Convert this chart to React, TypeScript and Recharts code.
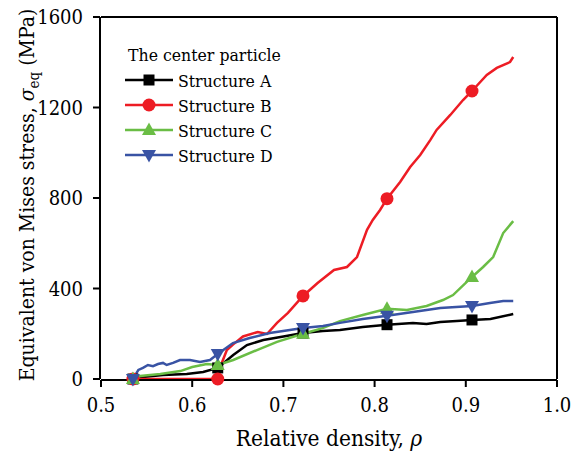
import React from 'react';
import { LineChart, Line, XAxis, YAxis, Legend } from 'recharts';

// relative density (x) and equivalent von Mises stress in MPa (y) per structure
const densityA = [0.535, 0.546, 0.568, 0.594, 0.612, 0.628, 0.645, 0.66, 0.678, 0.7, 0.7215, 0.743, 0.762, 0.787, 0.8136, 0.842, 0.857, 0.872, 0.89, 0.9068, 0.927, 0.952];
const stressA = [0, 9, 18, 22, 31, 49, 106, 150, 172, 188, 203, 212, 217, 230, 240, 248, 243, 252, 256, 261, 265, 287];

const densityB = [0.535, 0.628, 0.6316, 0.638, 0.6447, 0.6557, 0.672, 0.682, 0.693, 0.705, 0.7215, 0.7375, 0.7555, 0.7697, 0.7807, 0.7917, 0.798, 0.806, 0.8136, 0.828, 0.839, 0.85, 0.861, 0.868, 0.883, 0.897, 0.9068, 0.923, 0.934, 0.9485, 0.952];
const stressB = [0, 0, 62, 128, 152, 188, 208, 199, 248, 292, 367, 424, 482, 495, 539, 659, 703, 747, 797, 871, 937, 990, 1056, 1101, 1167, 1233, 1273, 1344, 1375, 1401, 1423];

const densityC = [0.535, 0.543, 0.565, 0.587, 0.6, 0.616, 0.628, 0.645, 0.671, 0.693, 0.7215, 0.743, 0.762, 0.787, 0.8136, 0.8355, 0.857, 0.875, 0.886, 0.9068, 0.919, 0.93, 0.941, 0.952];
const stressC = [0, 13, 22, 35, 53, 66, 62, 84, 128, 164, 200, 225, 256, 283, 310, 305, 323, 349, 371, 451, 495, 539, 645, 698];

const densityD = [0.535, 0.541, 0.546, 0.5515, 0.557, 0.5625, 0.568, 0.572, 0.579, 0.5866, 0.5976, 0.6086, 0.6195, 0.628, 0.6447, 0.663, 0.685, 0.707, 0.7215, 0.7434, 0.762, 0.787, 0.8136, 0.842, 0.872, 0.9068, 0.9265, 0.941, 0.952];
const stressD = [0, 40, 49, 62, 57, 66, 71, 62, 71, 84, 84, 75, 84, 110, 159, 181, 203, 217, 225, 234, 248, 265, 280, 296, 314, 323, 336, 345, 345];

// densities at which a symbol is drawn on every curve
const markerDensity = [0.535, 0.628, 0.7215, 0.8136, 0.9068];

const xMajorTicks = [0.5, 0.6, 0.7, 0.8, 0.9, 1.0];
const xMinorTicks = [0.5, 0.55, 0.6, 0.65, 0.7, 0.75, 0.8, 0.85, 0.9, 0.95, 1.0];
const yMajorTicks = [0, 400, 800, 1200, 1600];
const yMinorTicks = [0, 200, 400, 600, 800, 1000, 1200, 1400, 1600];

const seriesNames = ['Structure A', 'Structure B', 'Structure C', 'Structure D'];
const seriesColors = ['#000000', '#ed1c24', '#6abd45', '#3953a4'];
const seriesShapes = ['square', 'circle', 'triangle', 'triangleDown'];

const toRows = (xs: number[], ys: number[]) => xs.map((x, i) => ({ x, y: ys[i] }));

const series = [
  toRows(densityA, stressA),
  toRows(densityB, stressB),
  toRows(densityC, stressC),
  toRows(densityD, stressD),
];

const FONT = '"DejaVu Serif Condensed", "DejaVu Serif", serif';
const frame = { stroke: '#000', strokeWidth: 2 };
const tickFont = { fontSize: 20, fill: '#000', fontFamily: FONT, fontStretch: 'condensed' };
const X_DOMAIN = [0.5, 1.0];
const Y_DOMAIN = [0, 1600];

const Marker = ({ shape, cx, cy, color }: { shape: string; cx: number; cy: number; color: string }) => {
  if (shape === 'square') return <rect x={cx - 5.5} y={cy - 5.5} width={11} height={11} fill={color} />;
  if (shape === 'circle') return <circle cx={cx} cy={cy} r={6.5} fill={color} />;
  if (shape === 'triangle')
    return <polygon points={`${cx},${cy - 7.5} ${cx - 7},${cy + 5} ${cx + 7},${cy + 5}`} fill={color} />;
  return <polygon points={`${cx},${cy + 7.5} ${cx - 7},${cy - 5} ${cx + 7},${cy - 5}`} fill={color} />;
};

const makeDot = (idx: number) => (props: any) => {
  const { cx, cy, payload, index } = props;
  const hit = markerDensity.some((m) => Math.abs(m - payload.x) < 1e-6);
  if (!hit) return <g key={`d${idx}-${index}`} />;
  return (
    <g key={`d${idx}-${index}`}>
      <Marker shape={seriesShapes[idx]} cx={cx} cy={cy} color={seriesColors[idx]} />
    </g>
  );
};

const textStyle = (size: number) => ({ fontSize: size, fontFamily: FONT, fontStretch: 'condensed', fill: '#000' });

const XTitle = (props: any) => {
  const { viewBox } = props;
  return (
    <text x={viewBox.x + viewBox.width / 2} y={446} textAnchor="middle" style={textStyle(22.5)}>
      Relative density, <tspan fontStyle="italic">ρ</tspan>
    </text>
  );
};

const YTitle = (props: any) => {
  const { viewBox } = props;
  const cy = viewBox.y + viewBox.height / 2 - 3;
  return (
    <text transform={`translate(34, ${cy}) rotate(-90)`} textAnchor="middle" style={textStyle(21)}>
      Equivalent von Mises stress, <tspan fontStyle="italic">σ</tspan>
      <tspan fontSize={15} dy={5}>eq</tspan>
      <tspan dy={-5}> (MPa)</tspan>
    </text>
  );
};

const renderLegend = () => (
  <svg width={200} height={135} style={{ display: 'block' }}>
    <text x={8} y={25} style={textStyle(17.5)}>
      The center particle
    </text>
    {seriesNames.map((name, i) => {
      const cy = 44 + i * 25;
      return (
        <g key={name}>
          <line x1={5} x2={53} y1={cy} y2={cy} stroke={seriesColors[i]} strokeWidth={2.5} />
          <Marker shape={seriesShapes[i]} cx={29} cy={cy} color={seriesColors[i]} />
          <text x={58} y={cy + 7} style={textStyle(17.5)}>
            {name}
          </text>
        </g>
      );
    })}
  </svg>
);

export default function App() {
  return (
    <div style={{ position: 'absolute', left: 0, top: 0, background: '#fff' }}>
      <LineChart width={571} height={457} margin={{ top: 17, right: 14, bottom: 0, left: 0 }}>
        {/* minor ticks: thin unlabeled axes declared first so they sit on the frame edge */}
        <XAxis xAxisId="a-minor" type="number" domain={X_DOMAIN} allowDataOverflow ticks={xMinorTicks} interval={0}
          height={1} tick={false} axisLine={false} tickSize={4} tickLine={frame} />
        <XAxis
          xAxisId="b-main"
          type="number"
          dataKey="x"
          domain={X_DOMAIN}
          ticks={xMajorTicks}
          interval={0}
          height={77}
          tickSize={7}
          tickMargin={11}
          tickLine={frame}
          axisLine={frame}
          tick={tickFont}
          tickFormatter={(v: number) => v.toFixed(1)}
          label={{ content: <XTitle /> }}
        />
        {/* mirrored top and right axes close the frame with inward ticks */}
        <XAxis xAxisId="c-top" orientation="top" mirror type="number" domain={X_DOMAIN} allowDataOverflow
          ticks={xMajorTicks} interval={0} height={10} tick={false} axisLine={frame} tickSize={7} tickLine={frame} />
        <XAxis xAxisId="d-top-minor" orientation="top" mirror type="number" domain={X_DOMAIN} allowDataOverflow
          ticks={xMinorTicks} interval={0} height={10} tick={false} axisLine={false} tickSize={4} tickLine={frame} />

        <YAxis yAxisId="a-minor" type="number" domain={Y_DOMAIN} allowDataOverflow ticks={yMinorTicks} interval={0}
          width={1} tick={false} axisLine={false} tickSize={4} tickLine={frame} />
        <YAxis
          yAxisId="b-main"
          type="number"
          domain={Y_DOMAIN}
          ticks={yMajorTicks}
          interval={0}
          width={100}
          tickSize={7}
          tickMargin={10}
          tickLine={frame}
          axisLine={frame}
          tick={tickFont}
          label={{ content: <YTitle /> }}
        />
        <YAxis yAxisId="c-right" orientation="right" mirror type="number" domain={Y_DOMAIN} allowDataOverflow
          ticks={yMajorTicks} interval={0} width={10} tick={false} axisLine={frame} tickSize={7} tickLine={frame} />
        <YAxis yAxisId="d-right-minor" orientation="right" mirror type="number" domain={Y_DOMAIN} allowDataOverflow
          ticks={yMinorTicks} interval={0} width={10} tick={false} axisLine={false} tickSize={4} tickLine={frame} />

        <Legend
          layout="vertical"
          align="center"
          verticalAlign="middle"
          content={renderLegend}
          wrapperStyle={{ position: 'absolute', left: 120, top: 36, width: 200 }}
        />
        {series.map((rows, i) => (
          <Line
            key={seriesNames[i]}
            xAxisId="b-main"
            yAxisId="b-main"
            data={rows}
            dataKey="y"
            name={seriesNames[i]}
            type="linear"
            stroke={seriesColors[i]}
            strokeWidth={2.5}
            dot={makeDot(i)}
            activeDot={false}
            isAnimationActive={false}
          />
        ))}
      </LineChart>
    </div>
  );
}
